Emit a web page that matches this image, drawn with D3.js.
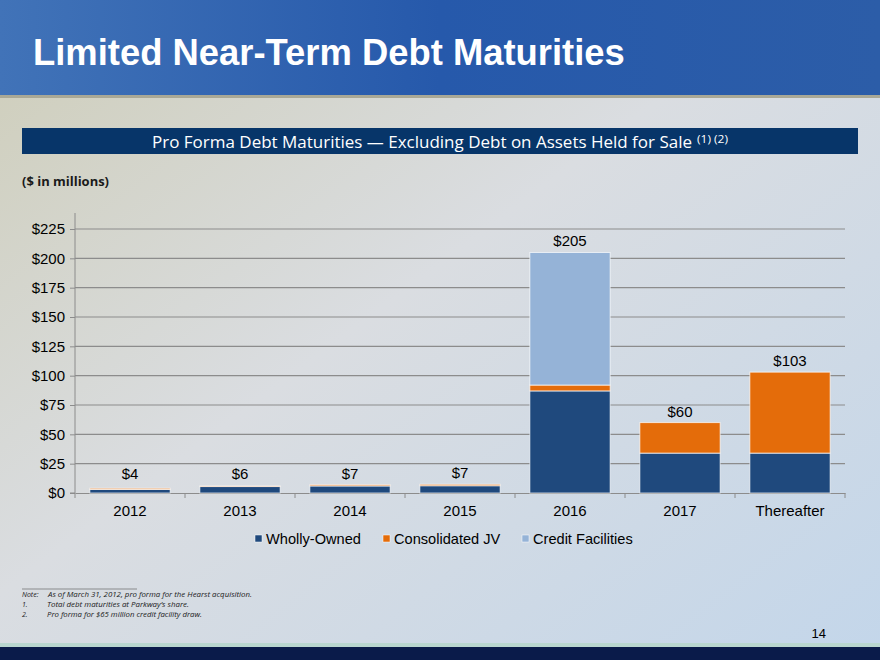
<!DOCTYPE html>
<html><head><meta charset="utf-8">
<script src="https://cdn.jsdelivr.net/npm/d3@7"></script>
<style>html,body{margin:0;padding:0;}svg{display:block;}</style>
</head><body><div id="c"></div>
<script>
const categories = ["2012","2013","2014","2015","2016","2017","Thereafter"];
const whollyOwned = [3, 5.5, 6, 6.2, 87, 34, 34];
const consolidatedJV = [1, 0.5, 1, 1.2, 5, 26, 69];
const creditFacilities = [0, 0, 0, 0, 113, 0, 0];
const totalLabels = ["$4","$6","$7","$7","$205","$60","$103"];
const yTicks = [0,25,50,75,100,125,150,175,200,225];
const seriesNames = ["Wholly-Owned","Consolidated JV","Credit Facilities"];
const seriesColors = ["#1f497d","#e46c0a","#95b3d7"];

const W=880,H=660;
const svg=d3.select("#c").append("svg").attr("width",W).attr("height",H);
const defs=svg.append("defs");
const bg=defs.append("linearGradient").attr("id","bg").attr("x1","0").attr("y1","0").attr("x2","1").attr("y2","1");
bg.append("stop").attr("offset","0").attr("stop-color","#cecdb8");
bg.append("stop").attr("offset","0.45").attr("stop-color","#dadde1");
bg.append("stop").attr("offset","1").attr("stop-color","#c3d6ea");
svg.append("rect").attr("width",W).attr("height",H).attr("fill","url(#bg)");
const hd=defs.append("linearGradient").attr("id","hd").attr("x1","0").attr("y1","0").attr("x2","1").attr("y2","0");
hd.append("stop").attr("offset","0").attr("stop-color","#4173b8");
hd.append("stop").attr("offset","0.5").attr("stop-color","#2659ab");
hd.append("stop").attr("offset","1").attr("stop-color","#2c5da8");
svg.append("rect").attr("width",W).attr("height",95).attr("fill","url(#hd)");
svg.append("rect").attr("y",95).attr("width",W).attr("height",3).attr("fill","#a9a896");
svg.append("text").attr("x",33).attr("y",65).attr("fill","#ffffff")
  .attr("font-family","Liberation Sans, Arial, sans-serif").attr("font-weight","bold").attr("font-size",36.4)
  .text("Limited Near-Term Debt Maturities");

// bottom band
svg.append("rect").attr("y",643).attr("width",W).attr("height",4).attr("fill","#b9d6cf");
svg.append("rect").attr("y",647).attr("width",W).attr("height",13).attr("fill","#0a1b4a");

// banner
svg.append("rect").attr("x",22).attr("y",128).attr("width",836).attr("height",26).attr("fill","#073569");
const bt=svg.append("text").attr("x",152).attr("y",147.5).attr("fill","#ffffff")
  .attr("font-family","Open Sans, Noto Sans, sans-serif").attr("font-size",16.5);
bt.append("tspan").attr("textLength",540).attr("lengthAdjust","spacingAndGlyphs")
  .text("Pro Forma Debt Maturities \u2014 Excluding Debt on Assets Held for Sale");
bt.append("tspan").attr("x",697).attr("dy",-5).attr("font-size",11)
  .attr("textLength",31).attr("lengthAdjust","spacingAndGlyphs").text("(1) (2)");

svg.append("text").attr("x",22).attr("y",186).attr("fill","#1a1a1a")
  .attr("font-family","Open Sans, Noto Sans, sans-serif").attr("font-weight","bold").attr("font-size",13)
  .attr("textLength",87).attr("lengthAdjust","spacingAndGlyphs")
  .text("($ in millions)");

// chart
const x0=75,x1=845,yTop=229,yBot=493;
const x=d3.scaleBand().domain(categories).range([x0,x1]).paddingInner(0.27).paddingOuter(0.135);
const xb=d3.scaleBand().domain(categories).range([x0,x1]);
const y=d3.scaleLinear().domain([0,225]).range([yBot,yTop]);
const g=svg.append("g");
const FF="Liberation Sans, Arial, sans-serif";
g.selectAll("line.grid").data(yTicks.filter(d=>d>0)).join("line")
  .attr("x1",x0).attr("x2",x1).attr("y1",d=>y(d)).attr("y2",d=>y(d))
  .attr("stroke","#8c8c8c").attr("stroke-width",1.2);
const ya=g.append("g").attr("transform",`translate(${x0},0)`)
  .call(d3.axisLeft(y).tickValues(yTicks).tickFormat(d=>"$"+d).tickSize(5).tickPadding(5));
ya.select(".domain").attr("stroke","#8c8c8c").attr("d",`M-5,${yBot}H0V${yTop-16}`);
ya.selectAll(".tick line").attr("stroke","#8c8c8c");
ya.selectAll("text").attr("font-family",FF).attr("font-size",15).attr("fill","#000");
const xa=g.append("g").attr("transform",`translate(0,${yBot})`)
  .call(d3.axisBottom(xb).tickSize(0).tickPadding(12));
xa.select(".domain").attr("stroke","#8c8c8c");
xa.selectAll("text").attr("font-family",FF).attr("font-size",15).attr("fill","#000");
g.selectAll("line.bt").data(categories.concat(["end"])).join("line")
  .attr("x1",(d,i)=>i<categories.length?xb(d):x1).attr("x2",(d,i)=>i<categories.length?xb(d):x1)
  .attr("y1",yBot).attr("y2",yBot+5).attr("stroke","#8c8c8c");

const rows=categories.map((c,i)=>({cat:c,w:whollyOwned[i],j:consolidatedJV[i],c:creditFacilities[i]}));
const stack=d3.stack().keys(["w","j","c"])(rows);
g.selectAll("g.s").data(stack).join("g").attr("fill",(d,i)=>seriesColors[i])
  .selectAll("rect").data(d=>d.filter(p=>p[1]-p[0]>0)).join("rect")
  .attr("x",d=>x(d.data.cat)).attr("width",x.bandwidth())
  .attr("y",d=>y(d[1])).attr("height",d=>y(d[0])-y(d[1]))
  .attr("stroke","#ffffff").attr("stroke-opacity",0.7).attr("stroke-width",1);
g.selectAll("text.lbl").data(rows).join("text")
  .attr("x",d=>x(d.cat)+x.bandwidth()/2).attr("y",d=>Math.min(y(d.w+d.j+d.c)-6,479))
  .attr("text-anchor","middle").attr("font-family",FF).attr("font-size",15).attr("fill","#000")
  .text((d,i)=>totalLabels[i]);

// legend
const legX=[255,383,522];
const lg=svg.append("g");
seriesNames.forEach((n,i)=>{
  lg.append("rect").attr("x",legX[i]).attr("y",535).attr("width",7).attr("height",7).attr("fill",seriesColors[i]).attr("stroke","#fff").attr("stroke-width",0.5);
  lg.append("text").attr("x",legX[i]+11).attr("y",543.5).attr("font-family",FF).attr("font-size",14.6).attr("fill","#000").text(n);
});

// footnotes
svg.append("line").attr("x1",22).attr("x2",137).attr("y1",589).attr("y2",589).attr("stroke","#555").attr("stroke-width",0.6);
const fn=[["Note:","As of March 31, 2012, pro forma for the Hearst acquisition.",597,48,204],["1.","Total debt maturities at Parkway\u2019s share.",607,47,142],["2.","Pro forma for $65 million credit facility draw.",617,47,155]];
fn.forEach(f=>{
  const t=svg.append("g").attr("font-family","Open Sans, Noto Sans, sans-serif").attr("font-style","italic").attr("font-size",7).attr("fill","#1a1a1a");
  t.append("text").attr("x",22).attr("y",f[2]).text(f[0]);
  t.append("text").attr("x",f[3]).attr("y",f[2]).attr("textLength",f[4]).attr("lengthAdjust","spacingAndGlyphs").text(f[1]);
});
svg.append("text").attr("x",826).attr("y",638).attr("text-anchor","end").attr("font-family",FF).attr("font-size",13).attr("fill","#000").text("14");
</script></body></html>
